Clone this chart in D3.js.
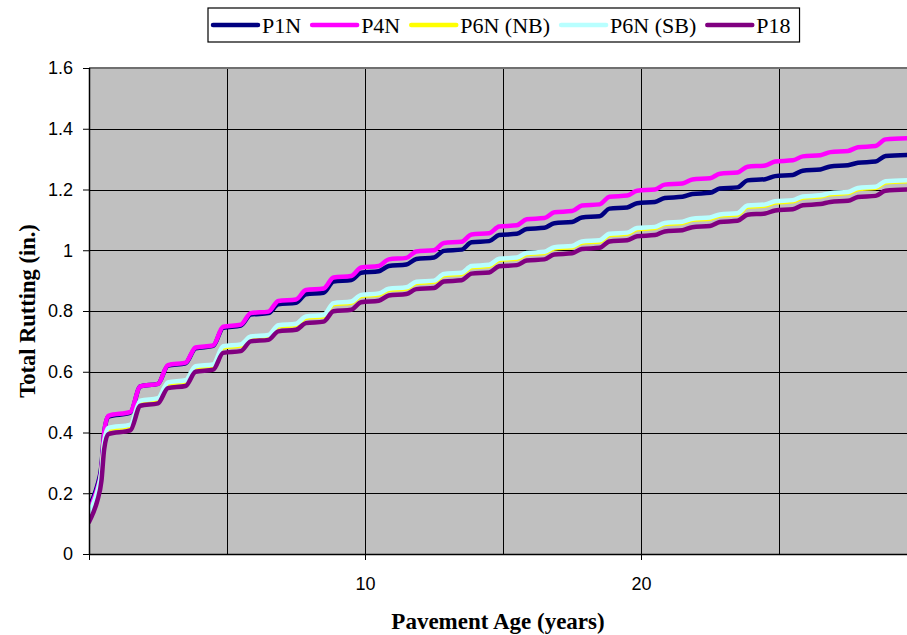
<!DOCTYPE html>
<html>
<head>
<meta charset="utf-8">
<script src="https://cdn.jsdelivr.net/npm/d3@7"></script>
<style>
  html, body { margin: 0; padding: 0; background: #ffffff; }
  svg { display: block; }
</style>
</head>
<body>
<svg id="chart" width="907" height="635"></svg>
<script>
// ---------------- DATA ----------------
const seriesNames = ["P1N", "P4N", "P6N (NB)", "P6N (SB)", "P18"];
const seriesColors = ["#000080", "#FF00FF", "#FFFF00", "#B8FFFF", "#800080"];

const ages = [0,0.15,0.3,0.45,0.55,0.7,
  1.5,1.86,2.5,2.86,3.5,3.86,4.5,4.86,5.5,5.86,6.5,6.86,7.5,7.86,8.5,8.86,9.5,9.86,
  10.5,10.86,11.5,11.86,12.5,12.86,13.5,13.86,14.5,14.86,15.5,15.86,16.5,16.86,17.5,17.86,
  18.5,18.86,19.5,19.86,20.5,20.86,21.5,21.86,22.5,22.86,23.5,23.86,24.5,24.86,25.5,25.86,
  26.5,26.86,27.5,27.86,28.5,28.86,29.7];

const p1n = [0.155,0.185,0.225,0.29,0.40,0.452, 0.465,0.552, 0.560,0.620, 0.628,0.677, 0.685,0.745,
  0.752,0.788, 0.793,0.822, 0.827,0.855, 0.860,0.897, 0.902,0.926, 0.931,0.948, 0.953,0.971,
  0.976,0.998, 1.002,1.026, 1.030,1.050, 1.054,1.070, 1.074,1.089, 1.093,1.108, 1.112,1.137,
  1.141,1.155, 1.159,1.172, 1.176,1.185, 1.189,1.203, 1.207,1.230, 1.234,1.244, 1.248,1.262,
  1.266,1.276, 1.280,1.288, 1.292,1.310, 1.314];

const p4n = [0.14,0.175,0.215,0.28,0.40,0.455, 0.468,0.552, 0.560,0.622, 0.630,0.680, 0.687,0.748,
  0.755,0.793, 0.798,0.833, 0.838,0.869, 0.874,0.910, 0.915,0.943, 0.948,0.970, 0.975,0.996,
  1.000,1.024, 1.028,1.052, 1.056,1.078, 1.082,1.102, 1.106,1.125, 1.129,1.147, 1.151,1.176,
  1.180,1.196, 1.200,1.216, 1.220,1.233, 1.237,1.252, 1.256,1.275, 1.279,1.292, 1.296,1.309,
  1.313,1.323, 1.327,1.339, 1.343,1.365, 1.369];

const p6nNB = [0.131,0.161,0.201,0.266,0.366,0.411, 0.422,0.501, 0.509,0.561, 0.568,0.614, 0.620,0.680,
  0.686,0.712, 0.717,0.749, 0.754,0.778, 0.783,0.822, 0.827,0.849, 0.854,0.869, 0.874,0.892,
  0.896,0.918, 0.922,0.944, 0.948,0.968, 0.972,0.987, 0.991,1.006, 1.010,1.025, 1.029,1.050,
  1.054,1.069, 1.073,1.086, 1.090,1.100, 1.104,1.114, 1.118,1.143, 1.147,1.157, 1.161,1.173,
  1.177,1.184, 1.188,1.201, 1.205,1.223, 1.227];

const p6nSB = [0.135,0.165,0.205,0.27,0.37,0.415, 0.426,0.505, 0.513,0.565, 0.572,0.618, 0.624,0.684,
  0.690,0.716, 0.721,0.753, 0.758,0.782, 0.787,0.826, 0.831,0.853, 0.858,0.873, 0.878,0.896,
  0.900,0.922, 0.926,0.948, 0.952,0.972, 0.976,0.991, 0.995,1.010, 1.014,1.029, 1.033,1.054,
  1.058,1.073, 1.077,1.090, 1.094,1.104, 1.108,1.118, 1.122,1.147, 1.151,1.161, 1.165,1.177,
  1.181,1.188, 1.192,1.205, 1.209,1.227, 1.231];

const p18 = [0.105,0.135,0.175,0.24,0.345,0.395, 0.407,0.488, 0.496,0.546, 0.553,0.600, 0.607,0.662,
  0.668,0.700, 0.705,0.733, 0.738,0.760, 0.765,0.799, 0.804,0.829, 0.834,0.851, 0.856,0.872,
  0.876,0.897, 0.901,0.923, 0.927,0.947, 0.951,0.966, 0.970,0.986, 0.990,1.004, 1.008,1.029,
  1.033,1.046, 1.050,1.062, 1.066,1.076, 1.080,1.093, 1.097,1.117, 1.121,1.131, 1.135,1.148,
  1.152,1.159, 1.163,1.175, 1.179,1.196, 1.200];

const yTicks = [0, 0.2, 0.4, 0.6, 0.8, 1, 1.2, 1.4, 1.6];
const yGrid = [0.2, 0.4, 0.6, 0.8, 1, 1.2, 1.4];
const xTicks = [0, 10, 20];
const xTickLabels = ["", "10", "20"];
const xGrid = [5, 10, 15, 20, 25];

const xTitle = "Pavement Age (years)";
const yTitle = "Total Rutting (in.)";

// ---------------- LAYOUT ----------------
const W = 907, H = 635;
const plotL = 89, plotT = 68, plotB = 554, plotRFull = 917;

const svg = d3.select("#chart");
const x = d3.scaleLinear().domain([0, 30]).range([plotL, plotRFull]);
const y = d3.scaleLinear().domain([0, 1.6]).range([plotB, plotT]);

svg.append("defs").append("clipPath").attr("id", "plotclip")
  .append("rect").attr("x", plotL).attr("y", plotT - 4).attr("width", W - plotL).attr("height", plotB - plotT + 4);

// plot background
svg.append("rect").attr("x", plotL).attr("y", plotT)
  .attr("width", plotRFull - plotL).attr("height", plotB - plotT)
  .attr("fill", "#C0C0C0");

// gridlines
const grid = svg.append("g").attr("clip-path", "url(#plotclip)");
grid.selectAll("line.hg").data(yGrid).join("line").attr("class", "hg")
  .attr("x1", plotL).attr("x2", plotRFull)
  .attr("y1", d => Math.round(y(d)) + 0.5).attr("y2", d => Math.round(y(d)) + 0.5)
  .attr("stroke", "#000").attr("stroke-width", 1);
grid.selectAll("line.vg").data(xGrid).join("line").attr("class", "vg")
  .attr("y1", plotT).attr("y2", plotB)
  .attr("x1", d => Math.round(x(d)) + 0.5).attr("x2", d => Math.round(x(d)) + 0.5)
  .attr("stroke", "#000").attr("stroke-width", 1);

// top border
svg.append("line").attr("x1", plotL).attr("x2", W).attr("y1", plotT).attr("y2", plotT)
  .attr("stroke", "#707070").attr("stroke-width", 2);

// series lines
const allSeries = [p1n, p4n, p6nNB, p6nSB, p18];
const lineGen = d3.line()
  .x((d, i) => x(ages[i]))
  .y(d => y(d))
  .curve(d3.curveMonotoneX);
const linesG = svg.append("g").attr("clip-path", "url(#plotclip)");
allSeries.forEach((s, k) => {
  linesG.append("path").datum(s)
    .attr("d", lineGen)
    .attr("fill", "none")
    .attr("stroke", seriesColors[k])
    .attr("stroke-width", 4.5)
    .attr("stroke-linejoin", "round")
    .attr("stroke-linecap", "round");
});

// axes
const tickFont = "'Liberation Sans', Arial, sans-serif";
const yAxis = svg.append("g").attr("transform", `translate(${plotL},0)`)
  .call(d3.axisLeft(y).tickValues(yTicks).tickSize(6).tickPadding(10).tickFormat(d => String(d)));
const xAxis = svg.append("g").attr("transform", `translate(0,${plotB})`)
  .call(d3.axisBottom(x).tickValues(xTicks).tickSize(6).tickPadding(17).tickFormat((d, i) => xTickLabels[i]));
[yAxis, xAxis].forEach(a => {
  a.selectAll("text").attr("font-family", tickFont).attr("font-size", 18).attr("fill", "#000");
  a.selectAll("line").attr("stroke", "#000");
  a.select(".domain").attr("stroke", "#000").attr("stroke-width", 1.5);
});
// extend x domain line to the window edge
xAxis.select(".domain").attr("d", `M${plotL},0.5H${W}`);
yAxis.select(".domain").attr("d", `M0.5,${plotT}V${plotB}`);

// axis titles
const titleFont = "'Liberation Serif', 'Times New Roman', serif";
svg.append("text").attr("x", 498).attr("y", 629)
  .attr("text-anchor", "middle").attr("font-family", titleFont)
  .attr("font-weight", "bold").attr("font-size", 23).text(xTitle);
svg.append("text")
  .attr("transform", `translate(35,${(plotT + plotB) / 2}) rotate(-90)`)
  .attr("text-anchor", "middle").attr("font-family", titleFont)
  .attr("font-weight", "bold").attr("font-size", 22.5).text(yTitle);

// legend
const legG = svg.append("g");
const legBox = legG.append("rect").attr("x", 208).attr("y", 8).attr("height", 34)
  .attr("fill", "#fff").attr("stroke", "#000").attr("stroke-width", 1.2);
let cx = 213;
seriesNames.forEach((name, k) => {
  legG.append("line").attr("x1", cx).attr("x2", cx + 45).attr("y1", 25).attr("y2", 25)
    .attr("stroke", seriesColors[k]).attr("stroke-width", 4.5).attr("stroke-linecap", "round");
  const t = legG.append("text").attr("x", cx + 49).attr("y", 33)
    .attr("font-family", titleFont).attr("font-size", 22).text(name);
  cx = cx + 49 + t.node().getComputedTextLength() + 11;
});
legBox.attr("width", cx - 208 - 2);
</script>
</body>
</html>
